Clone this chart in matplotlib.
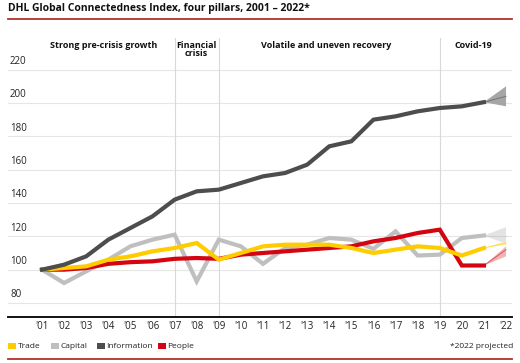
import matplotlib.pyplot as plt
from matplotlib.patches import Rectangle
from matplotlib.lines import Line2D

plt.rcParams['font.family'] = ['Open Sans', 'DejaVu Sans']

years = ["'01", "'02", "'03", "'04", "'05", "'06", "'07", "'08", "'09", "'10", "'11",
         "'12", "'13", "'14", "'15", "'16", "'17", "'18", "'19", "'20", "'21", "'22"]

# values 2001 - 2021
trade = [100, 101, 102, 106, 108, 111, 113, 116, 106, 110, 114,
         115, 115, 115, 113, 110, 112, 114, 113, 108.5, 113]
capital = [100, 92, 99, 106, 114, 118, 121, 93, 118, 114, 103.5,
           113, 115, 119, 118, 112.5, 123, 108.5, 109, 119, 120.5]
information = [100, 103, 108, 118, 125, 132, 142, 147, 148, 152, 156,
               158, 163, 174, 177, 190, 192, 195, 197, 198, 200.5]
people = [100, 100, 101, 103.5, 104.5, 105, 106.5, 107, 106.5, 109, 110,
          111, 112, 113, 114, 117, 119, 122, 124, 102.5, 102.5]

# 2022 projection: (low, mid, high)
proj_trade = (115, 116, 117)
proj_capital = (115.5, 120.5, 125.5)
proj_information = (198, 204, 210)
proj_people = (108, 112, 114)

grid_vals = [80, 100, 120, 140, 160, 180, 200, 220]
dividers = [6, 8, 18]
regions = [(2.8, "Strong pre-crisis growth"), (7, "Financial\ncrisis"),
           (12.85, "Volatile and uneven recovery"), (19.5, "Covid-19")]

c_trade = '#ffcc00'
c_capital = '#bfbfbf'
c_info = '#4d4d4d'
c_people = '#d40511'
c_line = '#b5302a'

fig = plt.figure(figsize=(5.2, 3.63), dpi=100)
ax = fig.add_axes([8 / 520, 1 - 317 / 363, 504 / 520, (317 - 38) / 363])
ax.set_xlim(-1.54, 21.27)
ax.set_ylim(71.6, 239)

for v in grid_vals:
    ax.axhline(v, color='#e6e6e6', lw=0.8, zorder=0)
    ax.text(0.004, v + 1.6, str(v), transform=ax.get_yaxis_transform(),
            ha='left', va='bottom', fontsize=7, color='#222222')
for d in dividers:
    ax.axvline(d, color='#d9d9d9', lw=0.8, zorder=0)

for x, lab in regions:
    ax.text(x, 237.5, lab, ha='center', va='top', fontsize=6.5, fontweight='bold',
            color='#111111', linespacing=1.0)

xs = list(range(len(trade)))
series = [(capital, proj_capital, c_capital, '#e3e3e3'),
          (people, proj_people, c_people, '#f2b3b3'),
          (trade, proj_trade, c_trade, '#ffeaa0'),
          (information, proj_information, c_info, '#a6a6a6')]
for vals, proj, col, fan in series:
    last = vals[-1]
    ax.fill([20, 21, 21], [last, proj[0], proj[2]], color=fan, lw=0, zorder=1)
    ax.plot([20, 21], [last, proj[1]], color=col, lw=0.8, alpha=0.5, zorder=1)
    ax.plot(xs, vals, color=col, lw=3, solid_joinstyle='miter', zorder=2)

for s in ['top', 'right', 'left']:
    ax.spines[s].set_visible(False)
ax.spines['bottom'].set_linewidth(1.4)
ax.spines['bottom'].set_color('#111111')
ax.set_yticks([])
ax.set_xticks(range(len(years)))
ax.set_xticklabels(years, fontsize=7, color='#222222')
ax.tick_params(axis='x', length=0, pad=3)

fig.text(8 / 520, 1 - 3 / 363, "DHL Global Connectedness Index, four pillars, 2001 \u2013 2022*",
         ha='left', va='top', fontsize=7.5, fontweight='bold', color='#111111')
fig.add_artist(Line2D([8 / 520, 512 / 520], [1 - 19 / 363] * 2, color=c_line, lw=1.3))
fig.add_artist(Line2D([8 / 520, 512 / 520], [1 - 359 / 363] * 2, color=c_line, lw=1.3))

legend_items = [(8, 'Trade', c_trade), (51, 'Capital', c_capital),
                (97, 'Information', c_info), (158, 'People', c_people)]
for px, lab, col in legend_items:
    fig.add_artist(Rectangle((px / 520, 1 - 349 / 363), 8 / 520, 6 / 363,
                             color=col, lw=0))
    fig.text((px + 9.5) / 520, 1 - 346 / 363, lab, ha='left', va='center',
             fontsize=6, color='#222222')
fig.text(513 / 520, 1 - 346 / 363, "*2022 projected", ha='right', va='center',
         fontsize=6, color='#222222')

fig.savefig('out.png', dpi=100)
